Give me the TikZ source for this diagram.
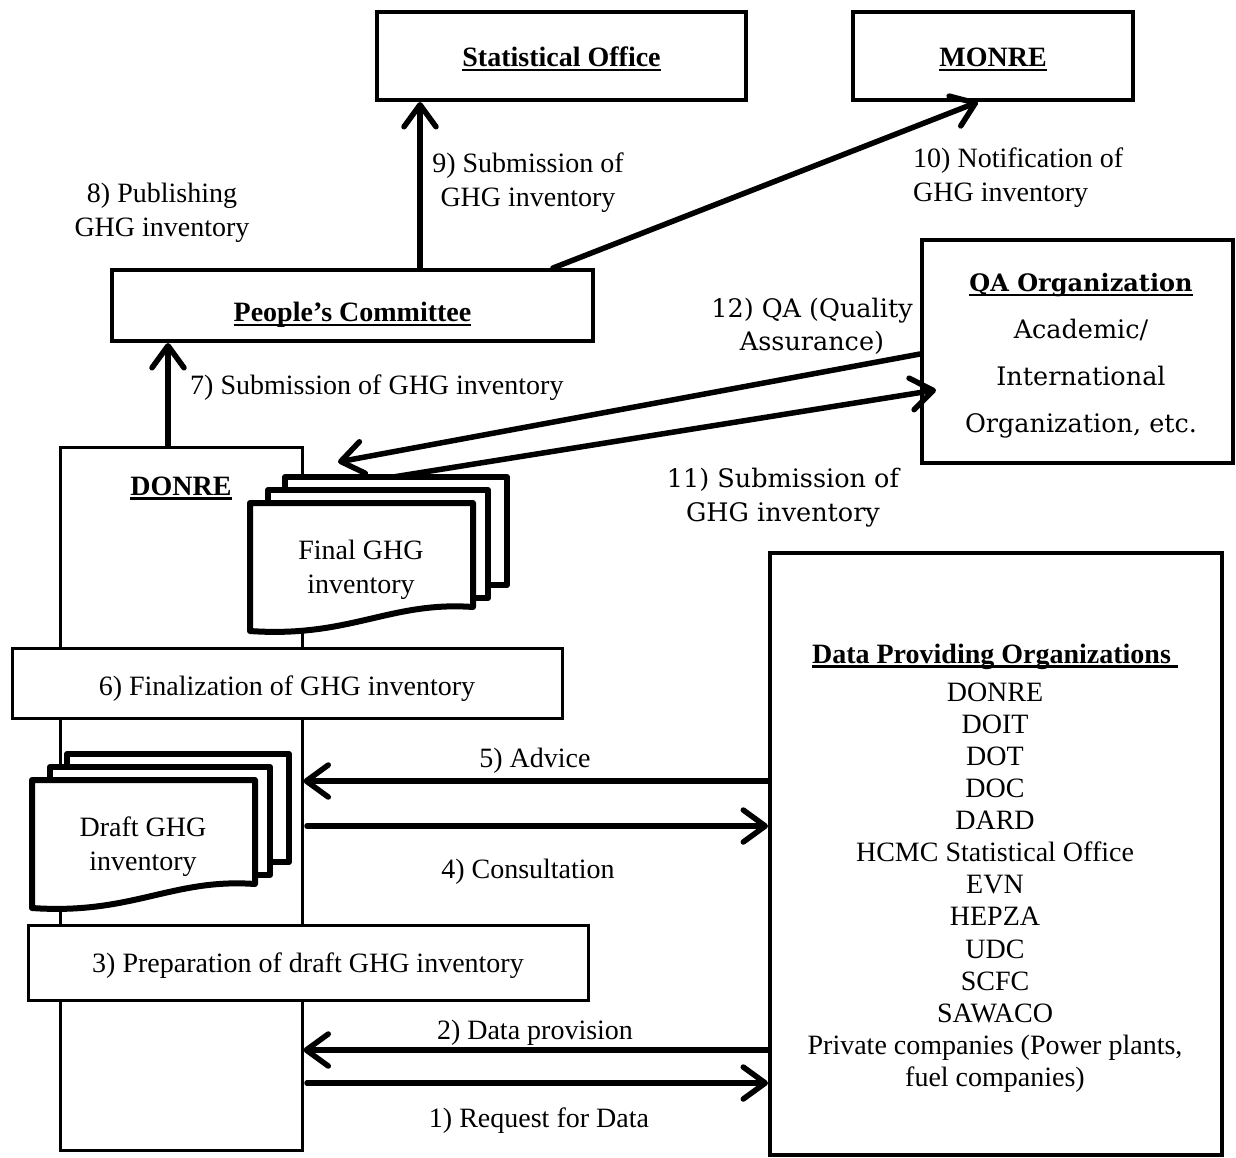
\documentclass[tikz,border=0pt]{standalone}
\usepackage{fontspec}
\setmainfont{Liberation Serif}
\newfontfamily\cent{DejaVu Serif}
\usetikzlibrary{arrows.meta}
% thick underline under a piece of text
\newcommand\ulbox[1]{\setbox0\hbox{#1}\rlap{\rule[-4.5pt]{\wd0}{2.4pt}}\box0}
% text set on a baseline lying #1 below the node centre
\newcommand\drop[2]{\raisebox{-#1}[0pt][0pt]{#2}}
% stack of three document sheets; #1 name, #2/#3 top-left of the front sheet, #4 text
\newcommand\docstack[4]{%
  \draw[doc] (#2+35,#3-26) rectangle (#2+257,#3+82);
  \draw[doc] (#2+18,#3-13) rectangle (#2+238,#3+95);
  \draw[doc] (#2,#3) -- (#2+223,#3) -- (#2+223,#3+104)
     .. controls (#2+140,#3+98) and (#2+100,#3+135) .. (#2,#3+128) -- cycle;
  \node[txt] (#1) at (#2+111,#3+64) {#4};
}
\begin{document}
\begin{tikzpicture}[x=1pt,y=-1pt,
  txt/.style={font=\fontsize{28}{34}\selectfont, inner sep=0pt, align=center, yshift=-3pt},
  bx/.style={draw, line width=4pt, fill=white, inner sep=0pt, align=center,
             font=\fontsize{28}{33}\selectfont\bfseries},
  band/.style={draw, line width=3pt, fill=white, inner sep=0pt,
               font=\fontsize{28}{33}\selectfont},
  doc/.style={draw, line width=6pt, fill=white, line join=round},
  arr/.style={line width=5.5pt, line cap=round,
              -{Straight Barb[length=22pt,width=32pt,round]}}]
\useasboundingbox (0,0) rectangle (1236,1157);

% top offices
\node[bx, minimum width=369pt, minimum height=88pt] (stat) at (561.5,56) {\drop{10.5pt}{\ulbox{Statistical Office}}};
\node[bx, minimum width=280pt, minimum height=88pt] (monre) at (993,56) {\drop{10.5pt}{\ulbox{MONRE}}};
\node[bx, minimum width=481pt, minimum height=71pt] (pc) at (352.5,305.5) {\drop{16pt}{\ulbox{People’s Committee}}};

% QA organisation
\node[draw, line width=4pt, minimum width=311pt, minimum height=223pt] (qa) at (1077.5,351.5) {};
\node[txt, font=\cent\fontsize{25.5}{47}\selectfont] (qatxt) at (1081,353)
  {\ulbox{\fontsize{24}{47}\selectfont\bfseries QA Organization}\\Academic/\\International\\Organization, etc.};

% DONRE column
\node[draw, line width=3pt, minimum width=242pt, minimum height=703pt] (donre) at (181,798.5) {};
\node[txt, font=\fontsize{28}{33}\selectfont\bfseries] (donretxt) at (181,485) {\ulbox{DONRE}};

% data providers
\node[draw, line width=4pt, minimum width=452pt, minimum height=602pt] (data) at (996,854) {};
\node[txt, font=\fontsize{28}{32.1}\selectfont] (datatxt) at (995,865)
  {\ulbox{\bfseries Data Providing Organizations\ }\\[6pt]
   DONRE\\DOIT\\DOT\\DOC\\DARD\\HCMC Statistical Office\\EVN\\HEPZA\\UDC\\SCFC\\SAWACO\\
   Private companies (Power plants,\\fuel companies)};

% documents and work steps
\docstack{final}{250}{503}{Final GHG\\inventory}
\node[band, minimum width=550pt, minimum height=70pt] (fin) at (287,683) {\drop{12.5pt}{6) Finalization of GHG inventory}};
\docstack{draft}{32}{780}{Draft GHG\\inventory}
\node[band, minimum width=560pt, minimum height=75pt] (prep) at (308,962.5) {\drop{10pt}{3) Preparation of draft GHG inventory}};

% helper coordinates
\coordinate (c7) at (168,0);
\coordinate (c9) at (420,0);
\coordinate (c10s) at (553,0);
\coordinate (c10e) at (978,0);
\coordinate (c12) at (0,354);
\coordinate (ftip) at (338,462);
\coordinate (c11s) at (393,477);
\coordinate (c11e) at (936,390);
\coordinate (dx) at (307,0);
\coordinate (y5) at (0,781);
\coordinate (y4) at (0,826);
\coordinate (y2) at (0,1050);
\coordinate (y1) at (0,1083);

% flows
\draw[arr] (donre.north -| c7) -- (pc.south -| c7);
\draw[arr] (pc.north -| c9) -- (stat.south -| c9);
\draw[arr] (pc.north -| c10s) -- (monre.south -| c10e);
\draw[arr] (qa.west |- c12) -- (ftip);
\draw[arr] (c11s) -- (c11e);
\draw[arr] (data.west |- y5) -- (donre.east |- y5);
\draw[arr] (dx |- y4) -- (data.west |- y4);
\draw[arr] (data.west |- y2) -- (donre.east |- y2);
\draw[arr] (dx |- y1) -- (data.west |- y1);

% step labels
\node[txt] (l8) at (162,210) {8) Publishing\\GHG inventory};
\node[txt] (l9) at (528,180) {9) Submission of\\GHG inventory};
\node[txt, align=left, anchor=west] (l10) at (913,175) {10) Notification of\\GHG inventory};
\node[txt, font=\cent\fontsize{25.5}{33}\selectfont] (l12) at (812,323) {12) QA (Quality\\Assurance)};
\node[txt, anchor=west] (l7) at (190,385) {7) Submission of GHG inventory};
\node[txt, font=\cent\fontsize{25.5}{34}\selectfont] (l11) at (783,495) {11) Submission of\\GHG inventory};
\node[txt] (l5) at (535,758) {5) Advice};
\node[txt] (l4) at (528,869) {4) Consultation};
\node[txt] (l2) at (535,1030) {2) Data provision};
\node[txt] (l1) at (539,1118) {1) Request for Data};
\end{tikzpicture}
\end{document}
